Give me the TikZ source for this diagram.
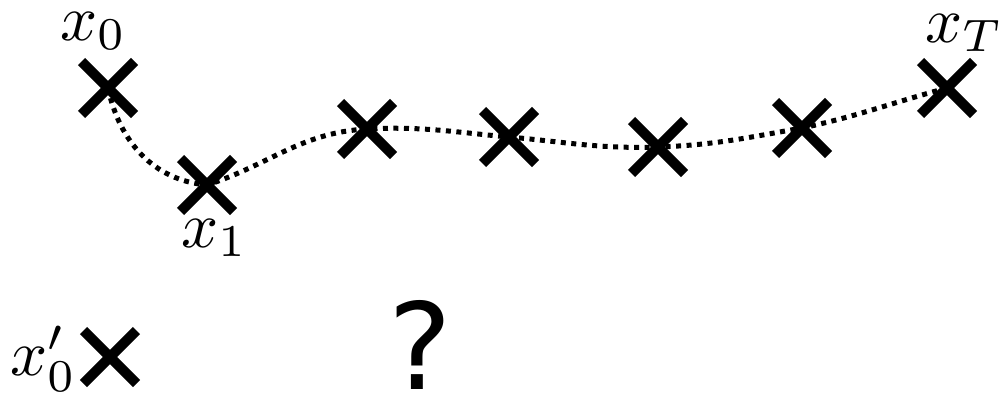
\documentclass[tikz,border=0pt]{standalone}
\usepackage{graphicx}
\usepackage{fontspec}
\newfontfamily\qfont{DejaVu Sans}
\usetikzlibrary{shapes.misc}
\tikzset{
  xmark/.style={cross out, draw, line width=10pt, minimum size=43pt, inner sep=0pt},
  trail/.style={line width=5pt, dash pattern=on 5pt off 5.5pt},
  lbl/.style={anchor=base west, inner sep=0pt}
}
% labels are set at 10pt and enlarged, so sub- and superscripts keep their own designs
\newcommand\biglabel[1]{\scalebox{6.5}{$#1$}}
\begin{document}
\begin{tikzpicture}[x=1pt,y=1pt]
  \useasboundingbox (0,0) rectangle (999,400);
  % dotted trajectory, drawn first so the marks sit on top
  \coordinate (c0) at (108,312);
  \coordinate (c1) at (207,215);
  \coordinate (c2) at (367,271);
  \coordinate (c3) at (509,263);
  \coordinate (c4) at (658,253);
  \coordinate (c5) at (802,272);
  \coordinate (c6) at (947,312);
  \draw[trail] (c0) to[out=-78,in=175] (c1)
                to[out=18,in=183] (c2)
                to[out=3,in=175] (c3)
                to[out=-5,in=182] (c4)
                to[out=2,in=190] (c5)
                to[out=12,in=195] (c6);
  % samples along the trajectory
  \node[xmark] (p0) at (c0) {};
  \node[xmark] (p1) at (c1) {};
  \node[xmark] (p2) at (c2) {};
  \node[xmark] (p3) at (c3) {};
  \node[xmark] (p4) at (c4) {};
  \node[xmark] (p5) at (c5) {};
  \node[xmark] (p6) at (c6) {};
  % perturbed starting point
  \node[xmark] (q0) at (110,43) {};
  % labels
  \node[lbl] (l0) at (60,360) {\biglabel{x_0}};
  \node[lbl] (l1) at (181,153) {\biglabel{x_1}};
  \node[lbl] (lT) at (925,358) {\biglabel{x_T}};
  \node[lbl] (lq) at (10,25) {\biglabel{x'_0}};
  \node[anchor=base, inner sep=0pt, font=\qfont\fontsize{120}{126}\selectfont] (qm) at (420,11) {?};
\end{tikzpicture}
\end{document}
